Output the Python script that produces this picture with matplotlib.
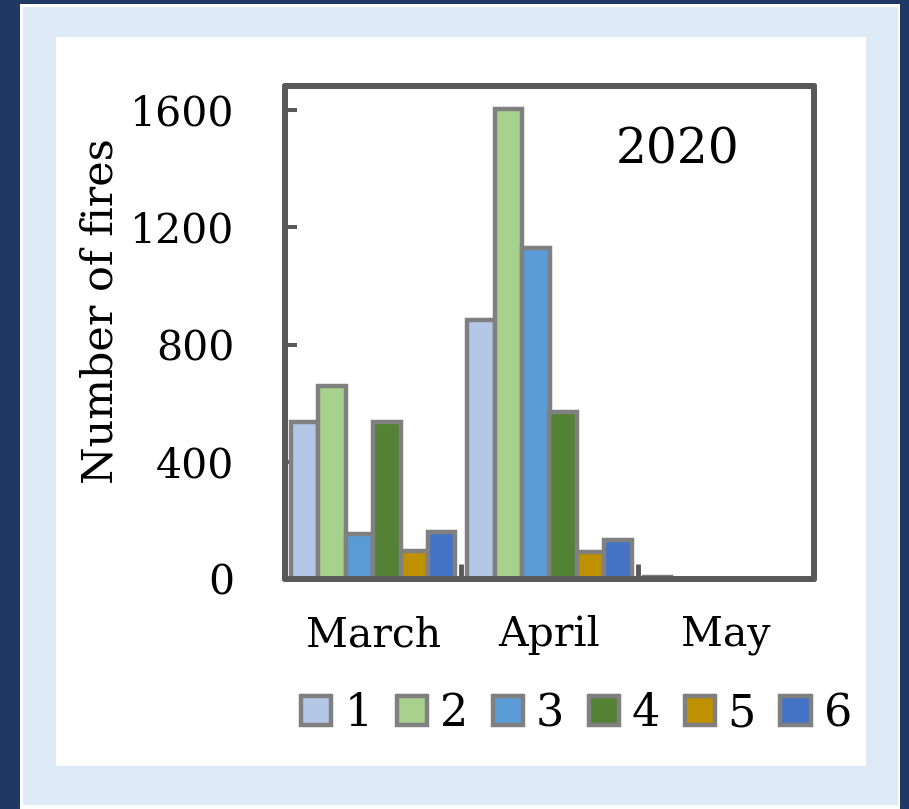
import numpy as np
import matplotlib
matplotlib.use("Agg")
import matplotlib.pyplot as plt
from matplotlib.patches import Rectangle

plt.rcParams['font.family'] = ['DejaVu Serif']

# ---- data ----
months = ['March', 'April', 'May']
series_labels = ['1', '2', '3', '4', '5', '6']
s1 = [538, 884, 8]
s2 = [660, 1605, 1]
s3 = [155, 1130, 1]
s4 = [538, 570, 0]
s5 = [96, 94, 1]
s6 = [162, 135, 0]
series = [s1, s2, s3, s4, s5, s6]
colors = ['#B4C7E7', '#A9D18E', '#5B9BD5', '#548235', '#BF9000', '#4472C4']
yticks = [0, 400, 800, 1200, 1600]
year_text = '2020'
ylabel = 'Number of fires'

W, H = 909, 809
fig = plt.figure(figsize=(W / 100, H / 100), dpi=100)
fig.patch.set_facecolor('#203864')


def frect(x0, y0, x1, y1, color, z):
    fig.add_artist(Rectangle((x0 / W, 1 - y1 / H), (x1 - x0) / W, (y1 - y0) / H,
                             transform=fig.transFigure, facecolor=color,
                             edgecolor='none', zorder=z))


frect(20, 4, 900, 809, 'white', -30)
frect(23, 7, 898, 805, '#DEEBF7', -29)
frect(56, 37, 866, 766, 'white', -28)

ax = fig.add_axes([285 / W, 1 - 579.3 / H, (814 - 285) / W, (579.3 - 86) / H])
ax.set_facecolor('white')

x = np.arange(len(months))
w = 1 / 6.45
for j, (vals, c, lab) in enumerate(zip(series, colors, series_labels)):
    ax.bar(x + (j - 2.5) * w, vals, w, color=c, edgecolor='#808080',
           linewidth=3.2, label=lab, zorder=2)

ax.set_xlim(-0.5, 2.5)
ax.set_ylim(0, 1682)
ax.set_yticks(yticks)
ax.tick_params(axis='y', direction='in', length=8.6, width=2.9, color='#595959',
               pad=36.5, labelsize=29.5)
ax.set_xticks(x)
ax.set_xticklabels(months)
ax.tick_params(axis='x', which='major', length=0, pad=26, labelsize=29.5)
ax.set_xticks([0.5, 1.5], minor=True)
ax.tick_params(axis='x', which='minor', direction='in', length=10.5, width=3.5,
               color='#595959')

for sp in ax.spines.values():
    sp.set_color('#595959')
    sp.set_linewidth(4.3)
    sp.set_capstyle('round')
    sp.set_zorder(5)

fig.text(677.5 / W, 1 - 163 / H, year_text, fontsize=35, ha='center', va='baseline')
fig.text(101 / W, 1 - 311.5 / H, ylabel, fontsize=31, rotation=90,
         ha='center', va='center')

ax.legend(loc='center', bbox_to_anchor=(576.5 / W, 1 - 713.5 / H),
          bbox_transform=fig.transFigure, ncol=6, frameon=False, fontsize=32,
          handlelength=0.68, handleheight=0.65, handletextpad=0.29,
          columnspacing=0.55, borderpad=0, borderaxespad=0)

fig.savefig('out.png', dpi=100, facecolor=fig.get_facecolor())
